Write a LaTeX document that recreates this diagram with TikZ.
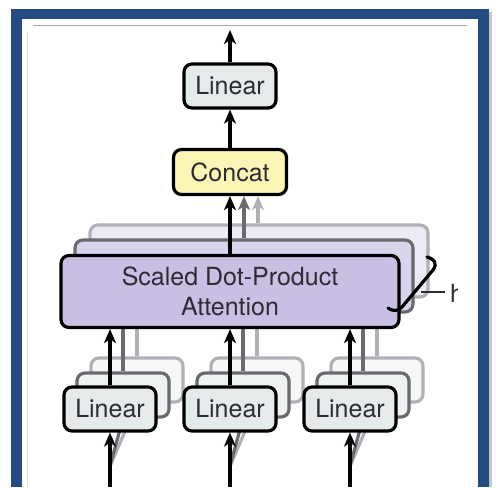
\documentclass[tikz,border=0pt]{standalone}
\usepackage{fontspec}
\setmainfont{TeX Gyre Heros}
\usetikzlibrary{arrows.meta}
\definecolor{frameblue}{HTML}{244C82}
\definecolor{shadowgray}{HTML}{C4C6CC}
\definecolor{linfill}{HTML}{E4EBEA}
\definecolor{lintwofill}{HTML}{EEF2F1}
\definecolor{linthreefill}{HTML}{F6F8F7}
\definecolor{ccfill}{HTML}{FBF6B6}
\definecolor{attfill}{HTML}{C8BFE3}
\definecolor{atttwofill}{HTML}{D9D4EC}
\definecolor{attthreefill}{HTML}{ECEAF5}
\definecolor{midgray}{HTML}{6A6A70}
\definecolor{lightgray}{HTML}{B0B0B6}
\definecolor{txt}{HTML}{2E2B36}
\begin{document}
\begin{tikzpicture}[x=1pt,y=-1pt,
  base/.style={draw=black, line width=3.2, rounded corners=8, inner sep=0pt,
    text=txt, font=\fontsize{25}{30}\selectfont, align=center},
  linbox/.style={base, fill=linfill, minimum width=92, minimum height=44},
  lintwo/.style={linbox, draw=midgray, fill=lintwofill},
  linthree/.style={linbox, draw=lightgray, fill=linthreefill},
  ccbox/.style={base, fill=ccfill, minimum width=113, minimum height=45},
  attbox/.style={base, fill=attfill, minimum width=338, minimum height=72},
  atttwo/.style={attbox, draw=midgray, fill=atttwofill},
  attthree/.style={attbox, draw=lightgray, fill=attthreefill},
  arr/.style={line width=3.2, -{Stealth[length=14pt,width=12pt,inset=4pt]}},
  plainline/.style={line width=3.2}
]
\useasboundingbox (0,0) rectangle (500,487);
% frame
\fill[shadowgray] (487,12) rectangle (492,487);
\fill[frameblue] (11,9) rectangle (489,487);
\fill[white] (22,19) rectangle (478,487);
\draw[gray!70, line width=0.8] (33,25) -- (467,25);
\draw[gray!25, line width=0.8] (27,32) -- (27,487);

% ---------- back layer ----------
\node[attthree] (att3) at (259,261) {};
\foreach \x/\n in {110/a,230/b,350/c} {
  \node[linthree] (\n3) at (\x+27,380) {};
}
\foreach \n in {a,b,c} {
  \draw[arr, lightgray] (\n3.north) -- (\n3.north |- att3.south);
}
% ---------- middle layer ----------
\node[atttwo] (att2) at (244,276) {};
\foreach \x/\n in {110/a,230/b,350/c} {
  \node[lintwo] (\n2) at (\x+13,395) {};
}
\foreach \n in {a,b,c} {
  \draw[arr, midgray] (\n2.north) -- (\n2.north |- att2.south);
}
% input lines
\foreach \x/\n in {110/a,230/b,350/c} {
  \coordinate (in\n) at (\x,487);
  \coordinate (br\n) at (\x,466);
  \draw[plainline, lightgray] (br\n) -- (\n3.south);
  \draw[plainline, midgray] (br\n) -- (\n2.south);
}
% ---------- front layer ----------
\node[attbox] (att1) at (230,291.5) {Scaled Dot-Product\\Attention};
\foreach \x/\n in {110/a,230/b,350/c} {
  \node[linbox] (\n1) at (\x,409) {Linear};
  \draw[arr] (in\n) -- (\n1.south);
  \draw[arr] (\n1.north) -- (\n1.north |- att1.south);
}

% concat and top linear
\node[ccbox] (cc) at (230,172) {Concat};
\node[linbox] (top) at (230,86) {Linear};
\coordinate (out) at (230,30);
\draw[arr] (att1.north -| cc.south) -- (cc.south);
\draw[arr, midgray] ([xshift=14pt]cc.south |- att2.north) -- ([xshift=14pt]cc.south);
\draw[arr, lightgray] ([xshift=28pt]cc.south |- att3.north) -- ([xshift=28pt]cc.south);
\draw[arr] (cc.north) -- (top.south);
\draw[arr] (top.north) -- (out);

% brace and h
\coordinate (bt) at (427,257);
\coordinate (bm) at (421,292);
\coordinate (bb) at (388,308);
\draw[line width=3.2, line cap=round] (bt) .. controls (434,259) and (438,263) .. (433,270)
  -- (402,307) .. controls (398,312) and (392,311) .. (bb);
\coordinate (hl) at (445,292);
\draw[line width=1.8, txt] (bm) -- (hl);
\begin{scope}
  \clip (446,270) rectangle (457.5,312);
  \node[text=txt, font=\fontsize{25}{30}\selectfont, anchor=base west, inner sep=0pt] (h) at (450,302) {h};
\end{scope}
\end{tikzpicture}
\end{document}
